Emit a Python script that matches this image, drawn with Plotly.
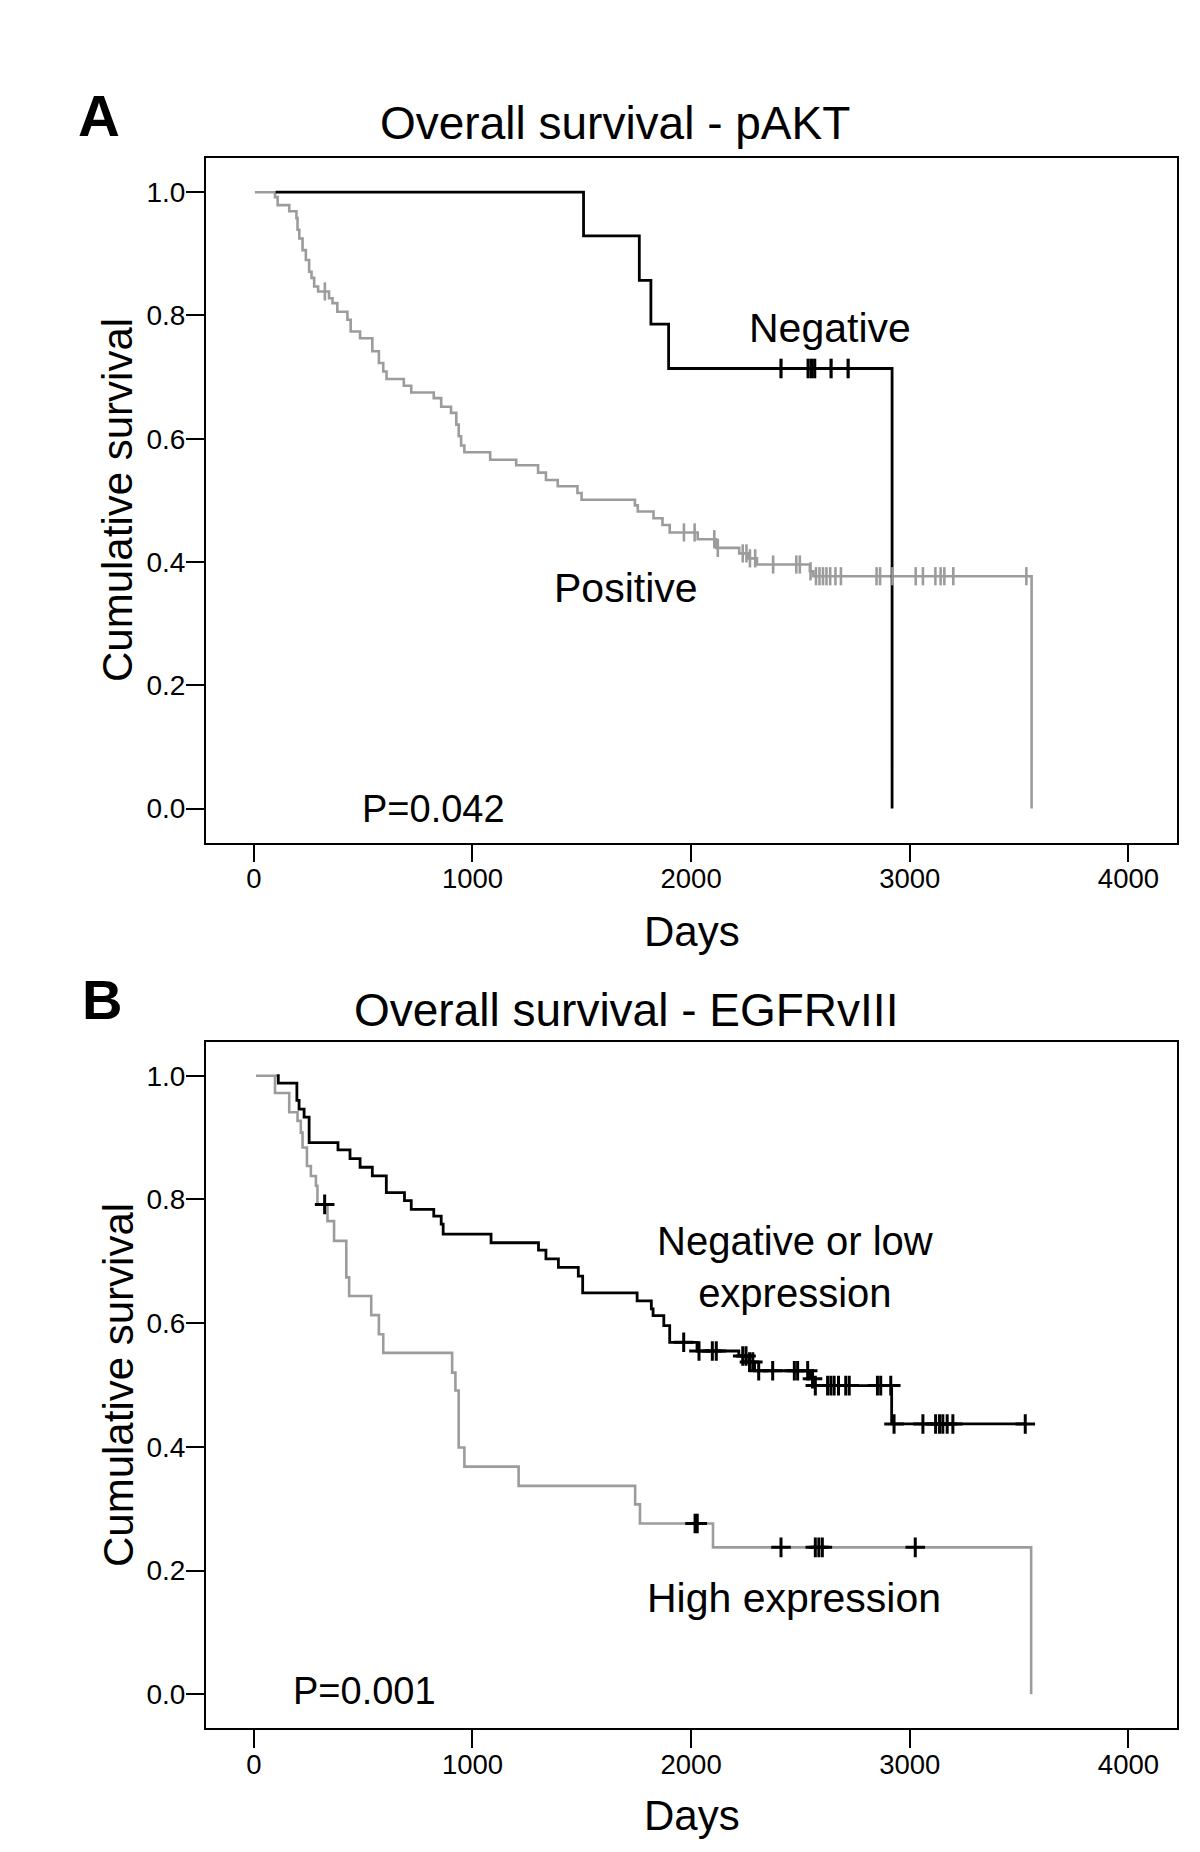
import numpy as np
import plotly.graph_objects as go

# ---------------- Data ----------------
# Panel A: Overall survival - pAKT
pakt_pos_start = 5
pakt_pos_times = [97, 109, 162, 195, 200, 208, 223, 238, 253, 264, 276, 294, 344, 360, 382,
                  428, 443, 486, 542, 572, 592, 607, 686, 720, 823, 857, 902, 926, 937, 948,
                  963, 1081, 1200, 1300, 1336, 1390, 1480, 1499, 1743, 1756, 1828, 1869, 1902,
                  2030, 2114, 2220, 2261, 2301, 2543, 2559, 3557]
pakt_pos_surv = [0.992, 0.979, 0.969, 0.958, 0.939, 0.925, 0.906, 0.890, 0.871, 0.861, 0.847,
                 0.839, 0.828, 0.820, 0.806, 0.793, 0.774, 0.763, 0.742, 0.723, 0.709, 0.697,
                 0.686, 0.675, 0.666, 0.652, 0.642, 0.623, 0.604, 0.589, 0.578, 0.566, 0.557,
                 0.545, 0.533, 0.523, 0.512, 0.501, 0.492, 0.482, 0.471, 0.460, 0.448, 0.437,
                 0.423, 0.414, 0.406, 0.396, 0.385, 0.377, 0.0]
pakt_pos_censor = [325, 1967, 2016, 2106, 2122, 2236, 2253, 2269, 2293, 2375, 2481, 2497, 2546,
                   2571, 2587, 2603, 2619, 2636, 2660, 2685, 2848, 2864, 2921, 3027, 3060, 3117,
                   3141, 3158, 3199, 3533]

pakt_neg_start = 100
pakt_neg_times = [1508, 1763, 1816, 1897, 2919]
pakt_neg_surv = [0.929, 0.857, 0.786, 0.714, 0.0]
pakt_neg_censor = [2411, 2535, 2550, 2565, 2640, 2718]

# Panel B: Overall survival - EGFRvIII
egfr_low_start = 104
egfr_low_times = [112, 197, 207, 230, 253, 385, 440, 486, 542, 606, 689, 720, 823, 857, 866,
                  1085, 1302, 1336, 1393, 1484, 1504, 1753, 1818, 1826, 1875, 1902, 2027, 2218,
                  2252, 2290, 2543, 2556, 2917]
egfr_low_surv = [0.988, 0.960, 0.946, 0.933, 0.892, 0.880, 0.866, 0.852, 0.838, 0.811, 0.798,
                 0.784, 0.773, 0.760, 0.744, 0.730, 0.718, 0.704, 0.690, 0.676, 0.649, 0.636,
                 0.623, 0.612, 0.596, 0.569, 0.555, 0.547, 0.537, 0.523, 0.510, 0.499, 0.437]
egfr_low_censor = [1966, 2036, 2097, 2115, 2236, 2251, 2267, 2282, 2309, 2373, 2472, 2487, 2533,
                   2555, 2568, 2624, 2639, 2654, 2674, 2707, 2723, 2852, 2867, 2913, 2928, 3060,
                   3118, 3136, 3151, 3171, 3197, 3528]

egfr_high_start = 10
egfr_high_times = [97, 162, 200, 215, 223, 243, 261, 284, 291, 337, 367, 423, 436, 537, 572,
                   592, 907, 922, 937, 963, 1211, 1744, 1766, 2100, 3555]
egfr_high_surv = [0.972, 0.941, 0.927, 0.908, 0.884, 0.854, 0.838, 0.822, 0.792, 0.765, 0.733,
                  0.674, 0.644, 0.613, 0.582, 0.552, 0.520, 0.491, 0.399, 0.368, 0.337, 0.307,
                  0.276, 0.2375, 0.0]
egfr_high_censor = [324, 2018, 2028, 2411, 2568, 2584, 2600, 3025]

x_ticks = [0, 1000, 2000, 3000, 4000]
y_ticks = [0.0, 0.2, 0.4, 0.6, 0.8, 1.0]

# ---------------- Helpers ----------------
BLACK = "#000000"
GRAY = "#9c9c9c"
FONT = "Liberation Sans, Arial, sans-serif"


def curve(start, times, surv, end=None):
    xs = [start] + list(times)
    ys = [1.0] + list(surv)
    if end is not None:
        xs.append(end)
        ys.append(ys[-1])
    return xs, ys


def surv_at(t_list, times, surv):
    times = np.asarray(times)
    surv = np.asarray(surv)
    out = []
    for t in t_list:
        i = np.searchsorted(times, t, side="right") - 1
        out.append(1.0 if i < 0 else float(surv[i]))
    return out


fig = go.Figure()

# ---- Panel A ----
x, y = curve(pakt_pos_start, pakt_pos_times, pakt_pos_surv)
fig.add_trace(go.Scatter(x=x, y=y, mode="lines", line=dict(color=GRAY, width=2.6, shape="hv"),
                         xaxis="x", yaxis="y", showlegend=False, hoverinfo="skip"))
x, y = curve(pakt_neg_start, pakt_neg_times, pakt_neg_surv)
fig.add_trace(go.Scatter(x=x, y=y, mode="lines", line=dict(color=BLACK, width=2.8, shape="hv"),
                         xaxis="x", yaxis="y", showlegend=False, hoverinfo="skip"))
fig.add_trace(go.Scatter(x=pakt_pos_censor, y=surv_at(pakt_pos_censor, pakt_pos_times, pakt_pos_surv),
                         mode="markers", marker=dict(symbol="line-ns", size=13,
                                                     line=dict(color=GRAY, width=2.6)),
                         xaxis="x", yaxis="y", showlegend=False, hoverinfo="skip"))
fig.add_trace(go.Scatter(x=pakt_neg_censor, y=surv_at(pakt_neg_censor, pakt_neg_times, pakt_neg_surv),
                         mode="markers", marker=dict(symbol="line-ns", size=14,
                                                     line=dict(color=BLACK, width=3.2)),
                         xaxis="x", yaxis="y", showlegend=False, hoverinfo="skip"))

# ---- Panel B ----
x, y = curve(egfr_high_start, egfr_high_times, egfr_high_surv)
fig.add_trace(go.Scatter(x=x, y=y, mode="lines", line=dict(color=GRAY, width=2.6, shape="hv"),
                         xaxis="x2", yaxis="y2", showlegend=False, hoverinfo="skip"))
x, y = curve(egfr_low_start, egfr_low_times, egfr_low_surv, end=egfr_low_censor[-1])
fig.add_trace(go.Scatter(x=x, y=y, mode="lines", line=dict(color=BLACK, width=2.8, shape="hv"),
                         xaxis="x2", yaxis="y2", showlegend=False, hoverinfo="skip"))
fig.add_trace(go.Scatter(x=egfr_high_censor, y=surv_at(egfr_high_censor, egfr_high_times, egfr_high_surv),
                         mode="markers", marker=dict(symbol="cross-thin", size=14,
                                                     line=dict(color=BLACK, width=3)),
                         xaxis="x2", yaxis="y2", showlegend=False, hoverinfo="skip"))
fig.add_trace(go.Scatter(x=egfr_low_censor, y=surv_at(egfr_low_censor, egfr_low_times, egfr_low_surv),
                         mode="markers", marker=dict(symbol="cross-thin", size=14,
                                                     line=dict(color=BLACK, width=3)),
                         xaxis="x2", yaxis="y2", showlegend=False, hoverinfo="skip"))

W, H = 1200, 1852
x_dom = [205.7 / W, 1177 / W]
yA_dom = [1 - 842.5 / H, 1 - 158.3 / H]
yB_dom = [1 - 1728.3 / H, 1 - 1041.7 / H]

xaxis_common = dict(range=[-220, 4222], tickvals=x_ticks, ticks="outside", ticklen=18,
                    tickwidth=1.5, tickcolor=BLACK, showline=True, linecolor=BLACK,
                    linewidth=1.5, mirror=True, showgrid=False, zeroline=False,
                    ticklabelstandoff=-7,
                    tickfont=dict(family=FONT, size=27.5, color=BLACK), domain=x_dom)
yaxis_common = dict(range=[-0.055, 1.055], tickvals=y_ticks, tickformat=".1f", ticks="outside",
                    ticklen=18, tickwidth=1.5, tickcolor=BLACK, showline=True, linecolor=BLACK,
                    linewidth=1.5, mirror=True, showgrid=False, zeroline=False,
                    ticklabelstandoff=-5,
                    tickfont=dict(family=FONT, size=28, color=BLACK))

fig.update_layout(
    width=W, height=H,
    margin=dict(l=0, r=0, t=0, b=0),
    paper_bgcolor="white", plot_bgcolor="white",
    xaxis=dict(**xaxis_common, anchor="y"),
    yaxis=dict(**yaxis_common, domain=yA_dom, anchor="x"),
    xaxis2=dict(**xaxis_common, anchor="y2"),
    yaxis2=dict(**yaxis_common, domain=yB_dom, anchor="x2"),
)


def ann_px(text, px, py, size, bold=False, angle=0):
    if bold:
        text = "<b>" + text + "</b>"
    fig.add_annotation(text=text, x=px / W, y=1 - py / H, xref="paper", yref="paper",
                       showarrow=False, xanchor="center", yanchor="middle", textangle=angle,
                       font=dict(family=FONT, size=size, color=BLACK))


def ann_data(text, x, y, axis, size):
    fig.add_annotation(text=text, x=x, y=y, xref="x" + axis, yref="y" + axis,
                       showarrow=False, xanchor="center", yanchor="middle",
                       font=dict(family=FONT, size=size, color=BLACK))


# Panel letters and titles
ann_px("A", 99, 115, 58, bold=True)
ann_px("B", 102, 1000, 56, bold=True)
ann_px("Overall survival - pAKT", 615, 123, 46)
ann_px("Overall survival - EGFRvIII", 626, 1010, 46)
# Axis titles
ann_px("Cumulative survival", 118, 500, 42, angle=-90)
ann_px("Cumulative survival", 118, 1385, 42, angle=-90)
ann_px("Days", 692, 931, 42)
ann_px("Days", 692, 1815, 42)

# In-plot labels
ann_data("Negative", 2636, 0.780, "", 41)
ann_data("Positive", 1703, 0.358, "", 41)
ann_data("P=0.042", 824, 0.0, "", 38)
ann_data("Negative or low<br>expression", 2476, 0.691, "2", 40)
ann_data("High expression", 2471, 0.155, "2", 41)
ann_data("P=0.001", 508, 0.005, "2", 38)

fig.write_html("out.html", config={"displayModeBar": False},
               post_script="document.body.style.margin='0px';")
